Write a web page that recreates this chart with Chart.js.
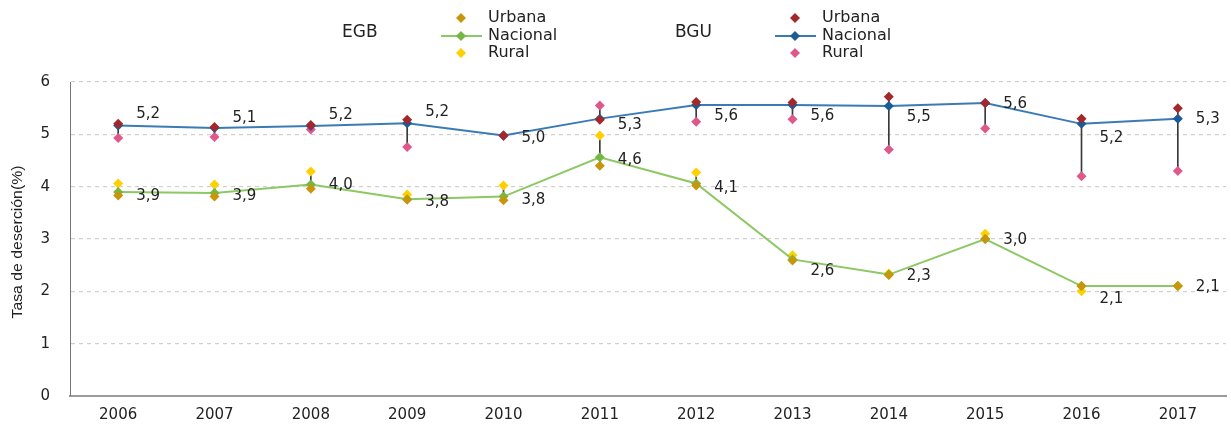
<!DOCTYPE html>
<html>
<head>
<meta charset="utf-8">
<script src="https://cdn.jsdelivr.net/npm/chart.js"></script>
<style>
  html, body { margin: 0; padding: 0; background: #fff; }
  #wrap { position: relative; width: 1231px; height: 426px; }
</style>
</head>
<body>
<div id="wrap"><canvas id="chart"></canvas></div>
<script>
const years = ['2006', '2007', '2008', '2009', '2010', '2011', '2012', '2013', '2014', '2015', '2016', '2017'];
const yTicks = [0, 1, 2, 3, 4, 5, 6];

// EGB
const egbUrbana = [3.83, 3.81, 3.96, 3.75, 3.74, 4.40, 4.02, 2.59, 2.31, 3.00, 2.10, 2.10];
const egbNacional = [3.90, 3.88, 4.04, 3.76, 3.81, 4.56, 4.06, 2.61, 2.32, 3.00, 2.10, 2.10];
const egbRural = [4.06, 4.04, 4.29, 3.85, 4.02, 4.98, 4.27, 2.69, 2.34, 3.10, 2.00, 2.10];

// BGU
const bguUrbana = [5.20, 5.14, 5.18, 5.28, 4.98, 5.28, 5.62, 5.61, 5.72, 5.60, 5.30, 5.50];
const bguNacional = [5.17, 5.12, 5.16, 5.21, 4.98, 5.30, 5.56, 5.56, 5.54, 5.60, 5.20, 5.30];
const bguRural = [4.93, 4.95, 5.09, 4.76, 4.97, 5.55, 5.24, 5.29, 4.71, 5.11, 4.20, 4.30];

// label vertical nudges (px) for the value labels
const egbLabelDy = [4, 3, 1, 3, 3, 3, 5, 12, 2, 1, 13, 1];
const bguLabelDy = [-11, -10, -11, -11, 3, 6, 11, 11, 11, 1, 14, 0];

const FONT = '"DejaVu Sans", sans-serif';
const TITLE_FONT = '"Liberation Sans", Arial, sans-serif';
const colors = {
  egbUrb: '#C8960C',
  egbNacLine: '#8CC864',
  egbNacPt: '#74B843',
  egbRur: '#FFD000',
  bguUrb: '#A3282B',
  bguNacLine: '#3A7BB6',
  bguNacPt: '#1B5B98',
  bguRur: '#E0588A',
  range: '#3a3a3a'
};

const rangeOf = (a, b) => a.map((v, i) => [Math.min(v, b[i]), Math.max(v, b[i])]);
const fmt = (v) => v.toFixed(1).replace('.', ',');

const pointSet = (label, data, color, order) => ({
  type: 'line',
  label,
  data,
  showLine: false,
  pointStyle: 'rectRot',
  pointRadius: 5,
  pointBackgroundColor: color,
  pointBorderColor: color,
  pointBorderWidth: 0,
  order
});

const valueLabels = {
  id: 'valueLabels',
  afterDatasetsDraw(chart) {
    const ctx = chart.ctx;
    ctx.save();
    ctx.font = '15px ' + FONT;
    ctx.fillStyle = '#222';
    ctx.textAlign = 'left';
    ctx.textBaseline = 'middle';
    [['egbNac', egbNacional, egbLabelDy], ['bguNac', bguNacional, bguLabelDy]].forEach(([id, vals, dy]) => {
      const idx = chart.data.datasets.findIndex((d) => d.id === id);
      const meta = chart.getDatasetMeta(idx);
      meta.data.forEach((pt, i) => {
        ctx.fillText(fmt(vals[i]), pt.x + 18, pt.y + dy[i]);
      });
    });
    ctx.restore();
  }
};

// y axis title, stretched a bit along its length like the original
const yTitle = {
  id: 'yTitle',
  afterDraw(chart) {
    const ctx = chart.ctx;
    const { top, bottom } = chart.chartArea;
    ctx.save();
    ctx.translate(18, (top + bottom) / 2 + 3);
    ctx.rotate(-Math.PI / 2);
    ctx.scale(1.13, 1);
    ctx.font = '14px ' + TITLE_FONT;
    ctx.fillStyle = '#222';
    ctx.textAlign = 'center';
    ctx.textBaseline = 'middle';
    ctx.fillText('Tasa de deserción(%)', 0, 0);
    ctx.restore();
  }
};

const groupLegend = {
  id: 'groupLegend',
  afterDraw(chart) {
    const ctx = chart.ctx;
    const diamond = (x, y, r, c) => {
      ctx.fillStyle = c;
      ctx.beginPath();
      ctx.moveTo(x, y - r);
      ctx.lineTo(x + r, y);
      ctx.lineTo(x, y + r);
      ctx.lineTo(x - r, y);
      ctx.closePath();
      ctx.fill();
    };
    const group = (title, tx, mx, c) => {
      ctx.font = '17px ' + FONT;
      ctx.fillStyle = '#222';
      ctx.textAlign = 'left';
      ctx.textBaseline = 'middle';
      ctx.fillText(title, tx, 33);
      diamond(mx, 18, 5, c.urb);
      ctx.strokeStyle = c.line;
      ctx.lineWidth = 2;
      ctx.beginPath();
      ctx.moveTo(mx - 20, 36);
      ctx.lineTo(mx + 21, 36);
      ctx.stroke();
      diamond(mx, 36, 5, c.pt);
      diamond(mx, 53, 5, c.rur);
      ctx.font = '16px ' + FONT;
      ctx.fillStyle = '#222';
      ctx.fillText('Urbana', mx + 27, 18);
      ctx.fillText('Nacional', mx + 27, 36);
      ctx.fillText('Rural', mx + 27, 53);
    };
    ctx.save();
    group('EGB', 342, 461, { urb: colors.egbUrb, line: colors.egbNacLine, pt: colors.egbNacPt, rur: colors.egbRur });
    group('BGU', 675, 795, { urb: colors.bguUrb, line: colors.bguNacLine, pt: colors.bguNacPt, rur: colors.bguRur });
    ctx.restore();
  }
};

new Chart(document.getElementById('chart'), {
  data: {
    labels: years,
    datasets: [
      {
        type: 'bar',
        label: 'EGB rango',
        data: rangeOf(egbUrbana, egbRural),
        backgroundColor: colors.range,
        barThickness: 1,
        grouped: false,
        order: 10
      },
      {
        type: 'bar',
        label: 'BGU rango',
        data: rangeOf(bguUrbana, bguRural),
        backgroundColor: colors.range,
        barThickness: 1,
        grouped: false,
        order: 10
      },
      pointSet('EGB Rural', egbRural, colors.egbRur, 8),
      pointSet('BGU Rural', bguRural, colors.bguRur, 8),
      {
        type: 'line',
        id: 'egbNac',
        label: 'EGB Nacional',
        data: egbNacional,
        borderColor: colors.egbNacLine,
        borderWidth: 2,
        tension: 0,
        pointStyle: 'rectRot',
        pointRadius: 5,
        pointBackgroundColor: colors.egbNacPt,
        pointBorderWidth: 0,
        order: 6
      },
      {
        type: 'line',
        id: 'bguNac',
        label: 'BGU Nacional',
        data: bguNacional,
        borderColor: colors.bguNacLine,
        borderWidth: 2,
        tension: 0,
        pointStyle: 'rectRot',
        pointRadius: 5,
        pointBackgroundColor: colors.bguNacPt,
        pointBorderWidth: 0,
        order: 6
      },
      pointSet('EGB Urbana', egbUrbana, colors.egbUrb, 4),
      pointSet('BGU Urbana', bguUrbana, colors.bguUrb, 4)
    ]
  },
  options: {
    responsive: true,
    maintainAspectRatio: false,
    animation: false,
    layout: { padding: { top: 82, left: 0, right: 0, bottom: 0 } },
    plugins: {
      legend: { display: false },
      tooltip: { enabled: false }
    },
    scales: {
      x: {
        offset: true,
        grid: { display: false, drawTicks: false },
        border: { display: true, color: '#9a9a9a', width: 2 },
        ticks: { color: '#222', font: { family: FONT, size: 15 }, padding: 10 },
        afterFit: (s) => { s.height = 30; }
      },
      y: {
        min: 0,
        max: 6,
        afterBuildTicks: (s) => { s.ticks = yTicks.map((v) => ({ value: v })); },
        grid: {
          drawTicks: false,
          color: (c) => (c.tick && c.tick.value === 0 ? 'rgba(0,0,0,0)' : '#cfcfcf'),
          lineWidth: 1.2
        },
        border: { display: true, color: '#777', width: 1, dash: [4, 4] },
        ticks: { color: '#222', font: { family: FONT, size: 15 }, padding: 20 },
        afterFit: (s) => { s.width = 70; }
      }
    }
  },
  plugins: [valueLabels, yTitle, groupLegend]
});
</script>
</body>
</html>
